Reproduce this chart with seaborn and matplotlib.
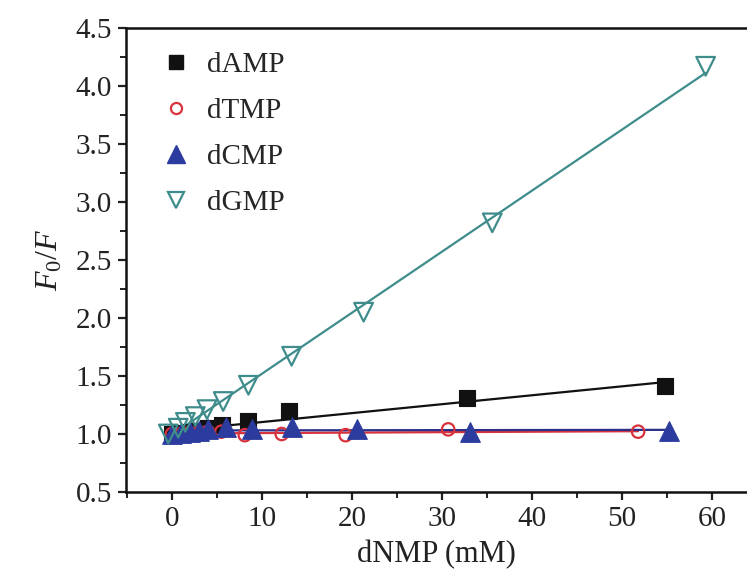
import matplotlib
matplotlib.use("Agg")
import matplotlib.pyplot as plt
from matplotlib.lines import Line2D
from matplotlib.ticker import MultipleLocator
import seaborn as sns
import pandas as pd

# ---- data ----
series_names = ["dAMP", "dTMP", "dCMP", "dGMP"]

damp_x = [0.0, 1.0, 2.0, 3.0, 4.0, 5.6, 8.5, 13.0, 32.8, 54.8]
damp_y = [1.00, 1.01, 1.02, 1.03, 1.05, 1.08, 1.11, 1.20, 1.31, 1.41]

dtmp_x = [0.0, 1.0, 2.0, 3.0, 4.0, 5.5, 8.1, 12.2, 19.3, 30.7, 51.8]
dtmp_y = [1.00, 1.00, 1.01, 1.01, 1.02, 1.02, 0.99, 1.00, 0.99, 1.04, 1.02]

dcmp_x = [0.0, 1.0, 2.0, 3.0, 4.0, 6.0, 8.9, 13.3, 20.6, 33.1, 55.2]
dcmp_y = [1.00, 1.01, 1.02, 1.03, 1.04, 1.06, 1.04, 1.06, 1.04, 1.02, 1.03]

dgmp_x = [-0.4, 0.7, 1.5, 2.6, 3.9, 5.7, 8.5, 13.3, 21.3, 35.6, 59.3]
dgmp_y = [1.00, 1.05, 1.10, 1.15, 1.21, 1.28, 1.42, 1.67, 2.05, 2.82, 4.17]

xs = [damp_x, dtmp_x, dcmp_x, dgmp_x]
ys = [damp_y, dtmp_y, dcmp_y, dgmp_y]

# ---- styles ----
colors = ["#111111", "#d8323c", "#2b3c9e", "#3f8c8c"]
line_colors = ["#111111", "#d8323c", "#2b2f8a", "#3f8c8c"]
markers = ["s", "o", "^", "v"]
filled = [True, False, True, False]
msizes = [120, 80, 200, 180]

sns.set_theme(style="ticks")
plt.rcParams["font.family"] = ["Liberation Serif", "DejaVu Serif"]
plt.rcParams["mathtext.fontset"] = "custom"
plt.rcParams["mathtext.it"] = "Liberation Serif:italic"
plt.rcParams["mathtext.rm"] = "Liberation Serif"

fig = plt.figure(figsize=(7.47, 5.79), dpi=100)
ax = fig.add_axes([126 / 747, 1 - 492 / 579, 1 - 126 / 747, (492 - 28) / 579])

# fitted lines first (below markers)
for i in range(4):
    df = pd.DataFrame({"x": xs[i], "y": ys[i]})
    sns.regplot(data=df, x="x", y="y", ax=ax, scatter=False, ci=None,
                line_kws=dict(color=line_colors[i], lw=1.6, zorder=2))

handles = []
for i in range(4):
    df = pd.DataFrame({"x": xs[i], "y": ys[i]})
    if filled[i]:
        sns.scatterplot(data=df, x="x", y="y", ax=ax, marker=markers[i],
                        s=msizes[i], color=colors[i], edgecolor=colors[i],
                        linewidth=0.8, zorder=3)
        h = Line2D([], [], ls="none", marker=markers[i], color=colors[i],
                   markersize=10 if markers[i] == "s" else 13)
    else:
        sns.scatterplot(data=df, x="x", y="y", ax=ax, marker=markers[i],
                        s=msizes[i], facecolor="none", edgecolor=colors[i],
                        linewidth=1.6, zorder=3)
        h = Line2D([], [], ls="none", marker=markers[i], markerfacecolor="none",
                   markeredgecolor=colors[i], markeredgewidth=1.6,
                   markersize=8 if markers[i] == "o" else 12)
    handles.append(h)

ax.set_xlim(-5.1, 63.9)
ax.set_ylim(0.5, 4.5)
ax.xaxis.set_major_locator(MultipleLocator(10))
ax.xaxis.set_minor_locator(MultipleLocator(5))
ax.yaxis.set_major_locator(MultipleLocator(0.5))
ax.yaxis.set_minor_locator(MultipleLocator(0.25))
ax.yaxis.set_major_formatter(matplotlib.ticker.FormatStrFormatter("%.1f"))

for s in ["left", "bottom", "top"]:
    ax.spines[s].set_linewidth(1.8)
    ax.spines[s].set_color("#111111")
ax.spines["right"].set_visible(False)

ax.tick_params(which="major", direction="out", length=6, width=1.6,
               labelsize=21, colors="#222222", pad=4)
ax.tick_params(which="minor", direction="out", length=4, width=1.4, colors="#222222")
ax.tick_params(top=False, right=False, which="both")

ax.set_xlabel("dNMP (mM)", fontsize=22, color="#222222", labelpad=6)
ax.set_ylabel(r"$\mathit{F_0/F}$", fontsize=23, color="#222222", labelpad=8)

ax.legend(handles, series_names, loc="upper left", frameon=False,
          fontsize=21, handletextpad=0.45, labelspacing=0.68,
          borderaxespad=0.4, handlelength=1.2, bbox_to_anchor=(0.015, 1.0))

fig.savefig("out.png", dpi=100)
